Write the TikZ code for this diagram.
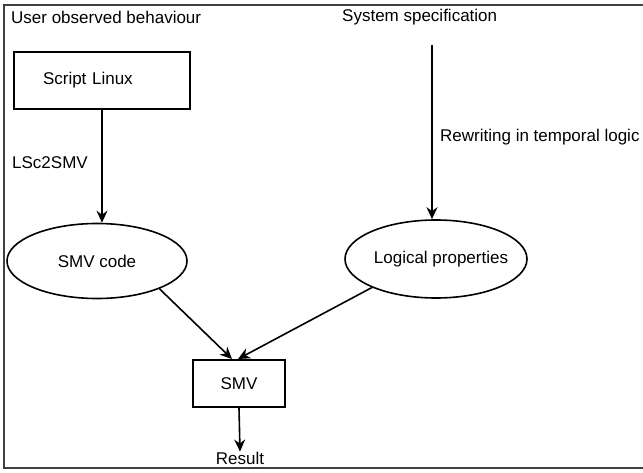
\documentclass[tikz,border=0pt]{standalone}
\usepackage{fontspec}
\setmainfont{Liberation Sans}
\usetikzlibrary{shapes.geometric,arrows.meta}
\begin{document}
\begin{tikzpicture}[x=1pt,y=-1pt,
  every node/.style={font=\fontsize{17}{19}\selectfont, inner sep=0pt},
  boxnode/.style={draw, line width=2pt, rectangle},
  ellnode/.style={draw, line width=1.6pt, ellipse, inner sep=-25pt},
  arr/.style={-{Stealth[length=12pt,width=11pt]}, line width=1.6pt}]
\clip (0,0) rectangle (643,473);
\draw[line width=1.3pt, black!75] (4,5) rectangle (700,468);
\node[anchor=west] (user) at (11,17) {User observed behaviour};
\node[anchor=west] (sys) at (342,17) {System specification};
\node[boxnode, minimum width=176pt, minimum height=57pt, inner xsep=28pt, text width=118pt, align=left] (script) at (102,80.5) {Script Linux};
\node[ellnode, minimum width=180pt, minimum height=75pt] (smvcode) at (97,261) {SMV code};
\node[ellnode, minimum width=182pt, minimum height=78pt] (logic) at (436,259) {\hspace{10pt}Logical properties};
\node[boxnode, minimum width=92pt, minimum height=47pt] (smv) at (239,383.5) {SMV};
\node (result) at (240,458) {Result};
\node[anchor=west] (rew) at (440,137) {Rewriting in temporal logic};
\node (lsc) at (50,163) {LSc2SMV};
\coordinate (specstart) at (432,45);
\draw[arr] (script.south) -- (script.south |- smvcode.north);
\draw[arr] (specstart) -- (specstart |- logic.north);
\draw[arr] (smvcode.-24) -- ([xshift=-7pt]smv.north);
\draw[arr] (logic.204) -- ([xshift=-1pt]smv.north);
\draw[arr] (smv.south) -- (result.north);
\end{tikzpicture}
\end{document}
